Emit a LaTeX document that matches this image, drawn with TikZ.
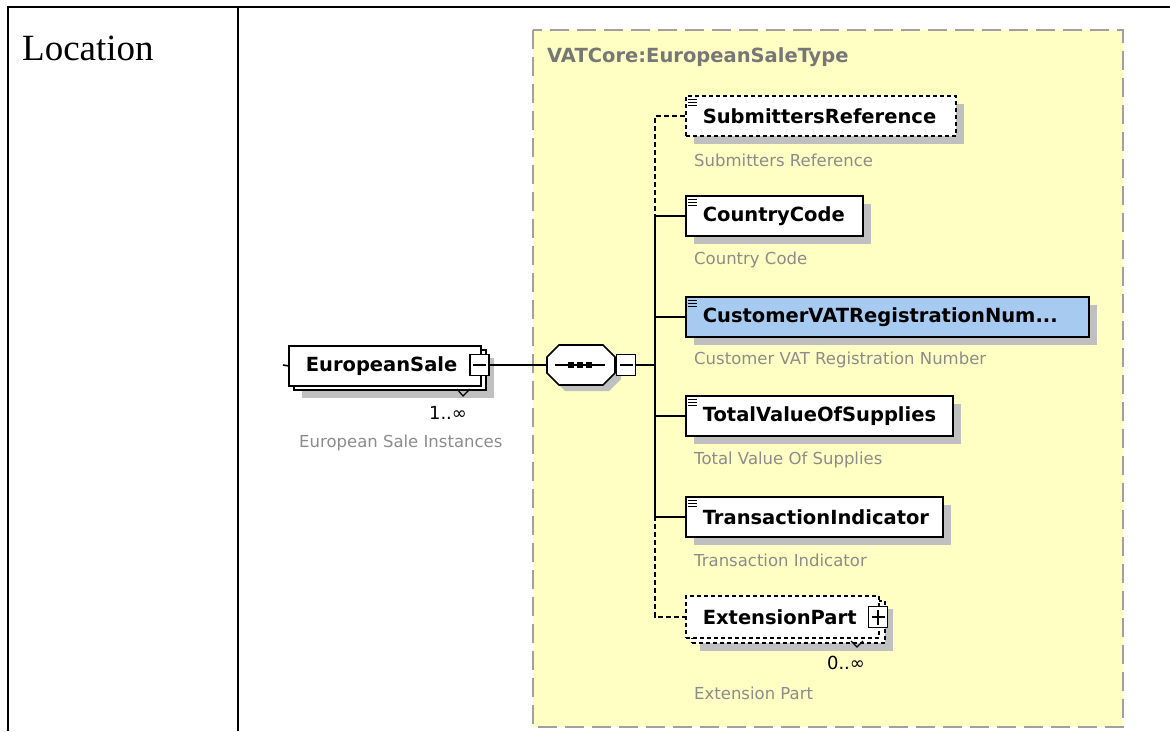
\documentclass[tikz,border=0pt]{standalone}
\usepackage{fontspec}
\setmainfont{Liberation Serif}
\newfontfamily\xsdfont{DejaVu Sans}
\usetikzlibrary{shapes.misc,shadows}

\definecolor{typeyellow}{HTML}{FFFFC4}
\definecolor{framegray}{HTML}{A0A0A0}
\definecolor{shadowgray}{HTML}{C0C0C0}
\definecolor{labelgray}{HTML}{8C8C8C}
\definecolor{pickblue}{HTML}{A6CAF0}

\begin{document}
\begin{tikzpicture}[x=1pt,y=-1pt,
	table_rule/.style={line width=2.5pt},
	type_frame/.style={draw=framegray,fill=typeyellow,line width=2pt,dash pattern=on 19pt off 8pt},
	elem_box/.style={draw,fill=white,line width=1.6pt,anchor=north west,minimum height=40pt,inner xsep=17pt,inner ysep=0pt,align=left,font=\fontsize{19.5}{22}\selectfont\xsdfont\bfseries},
	opt_box/.style={elem_box,dash pattern=on 4pt off 3pt},
	box_shadow/.style={drop shadow={shadow xshift=8pt,shadow yshift=-8pt,fill=shadowgray,opacity=1}},
	doc_label/.style={anchor=west,text=labelgray,inner sep=0pt,font=\fontsize{16.5}{19}\selectfont\xsdfont},
	occurs/.style={inner sep=0pt,font=\fontsize{18}{20}\selectfont\xsdfont},
	link/.style={line width=1.6pt},
	opt_link/.style={line width=1.6pt,dash pattern=on 5pt off 3pt},
	toggle_box/.style={draw,fill=white,line width=1.4pt,minimum width=19pt,minimum height=21pt,inner sep=0pt},
	minus_box/.style={toggle_box,path picture={\draw[line width=1.4pt] ([xshift=3pt]path picture bounding box.west) -- ([xshift=-3pt]path picture bounding box.east);}},
	plus_box/.style={toggle_box,path picture={\draw[line width=1.4pt] ([xshift=3pt]path picture bounding box.west) -- ([xshift=-3pt]path picture bounding box.east) ([yshift=-3pt]path picture bounding box.north) -- ([yshift=3pt]path picture bounding box.south);}},
	seq_node/.style={chamfered rectangle,chamfered rectangle xsep=6pt,chamfered rectangle ysep=6pt,draw,fill=white,line width=1.6pt,text width=56pt,text height=28pt,text depth=0pt,inner sep=0pt,drop shadow={shadow xshift=6pt,shadow yshift=-6pt,fill=shadowgray,opacity=1}}]

	\useasboundingbox (0,0) rectangle (1170,731);

	% table cells
	\draw[table_rule] (8,731) -- (8,7) -- (1170,7);
	\draw[table_rule] (238,7) -- (238,731);
	\node[anchor=base west,inner sep=0pt,font=\fontsize{37}{40}\selectfont] (loc) at (22,60) {Location};

	% complex type frame
	\draw[type_frame] (533,30) rectangle (1123,727);
	\node[anchor=west,inner sep=0pt,text=labelgray!85!black,font=\fontsize{19.5}{22}\selectfont\xsdfont\bfseries] (type_name) at (547,57) {VATCore:EuropeanSaleType};

	% repeated element on the left
	\node[elem_box,box_shadow,text width=158pt] (es_back) at (293,349) {};
	\node[elem_box,text width=158pt] (es) at (288,345) {EuropeanSale};
	\node[minus_box] (es_minus) at (479.5,365) {};
	\draw[line width=1.2pt] (457,389) -- (463,396) -- (470,389);
	\node[occurs] (es_occ) at (448,413) {1..∞};
	\node[doc_label] (es_doc) at (299,443) {European Sale Instances};
	\coordinate (es_in) at (283,365);

	% sequence compositor
	\node[seq_node] (seq) at (581,365) {};
	\draw[line width=1.4pt] (555,365) -- (605,365);
	\foreach \x in {571,580,589}
		\fill (\x-3,362) rectangle (\x+3,368);
	\node[minus_box] (seq_minus) at (626,365) {};

	% child elements
	\node[opt_box,box_shadow,text width=236pt] (sr) at (685,95) {SubmittersReference};
	\node[elem_box,box_shadow,text width=143pt] (cc) at (685,195) {CountryCode};
	\node[elem_box,box_shadow,fill=pickblue,text width=369pt] (cvat) at (685,296) {CustomerVATRegistrationNum...};
	\node[elem_box,box_shadow,text width=233pt] (tvs) at (685,395) {TotalValueOfSupplies};
	\node[elem_box,box_shadow,text width=223pt] (ti) at (685,496) {TransactionIndicator};
	\node[opt_box,box_shadow,text width=159pt,minimum height=42pt] (ext_back) at (691,600) {};
	\node[opt_box,text width=159pt,minimum height=42pt] (ext) at (685,595) {ExtensionPart};
	\node[plus_box] (ext_plus) at (878,617) {};
	\draw[line width=1.2pt] (851,641) -- (857,647) -- (863,641);
	\node[occurs] (ext_occ) at (846,663) {0..∞};

	% simple type marks
	\foreach \n in {sr,cc,cvat,tvs,ti}
		\foreach \dy in {4,7,10}
			\draw[line width=1pt] ([xshift=3pt,yshift=-\dy pt]\n.north west) -- ++(9,0);

	% documentation
	\node[doc_label] (sr_doc) at (694,160) {Submitters Reference};
	\node[doc_label] (cc_doc) at (694,260) {Country Code};
	\node[doc_label] (cvat_doc) at (694,360) {Customer VAT Registration Number};
	\node[doc_label] (tvs_doc) at (694,460) {Total Value Of Supplies};
	\node[doc_label] (ti_doc) at (694,560) {Transaction Indicator};
	\node[doc_label] (ext_doc) at (694,693) {Extension Part};

	% connectors
	\coordinate (j_cc) at (655,215);
	\coordinate (j_ti) at (655,516);
	\draw[link] (es_in) -- (es.west);
	\draw[link] (es_minus.east) -- (seq.west);
	\draw[link] (seq_minus.east) -- (seq_minus.east -| j_cc);
	\draw[opt_link] (sr.west) -| (j_cc);
	\draw[link] (j_cc) -- (j_ti);
	\foreach \n in {cc,cvat,tvs,ti}
		\draw[link] (\n.west) -- (\n.west -| j_cc);
	\draw[opt_link] (j_ti) |- (ext.west);
\end{tikzpicture}
\end{document}
